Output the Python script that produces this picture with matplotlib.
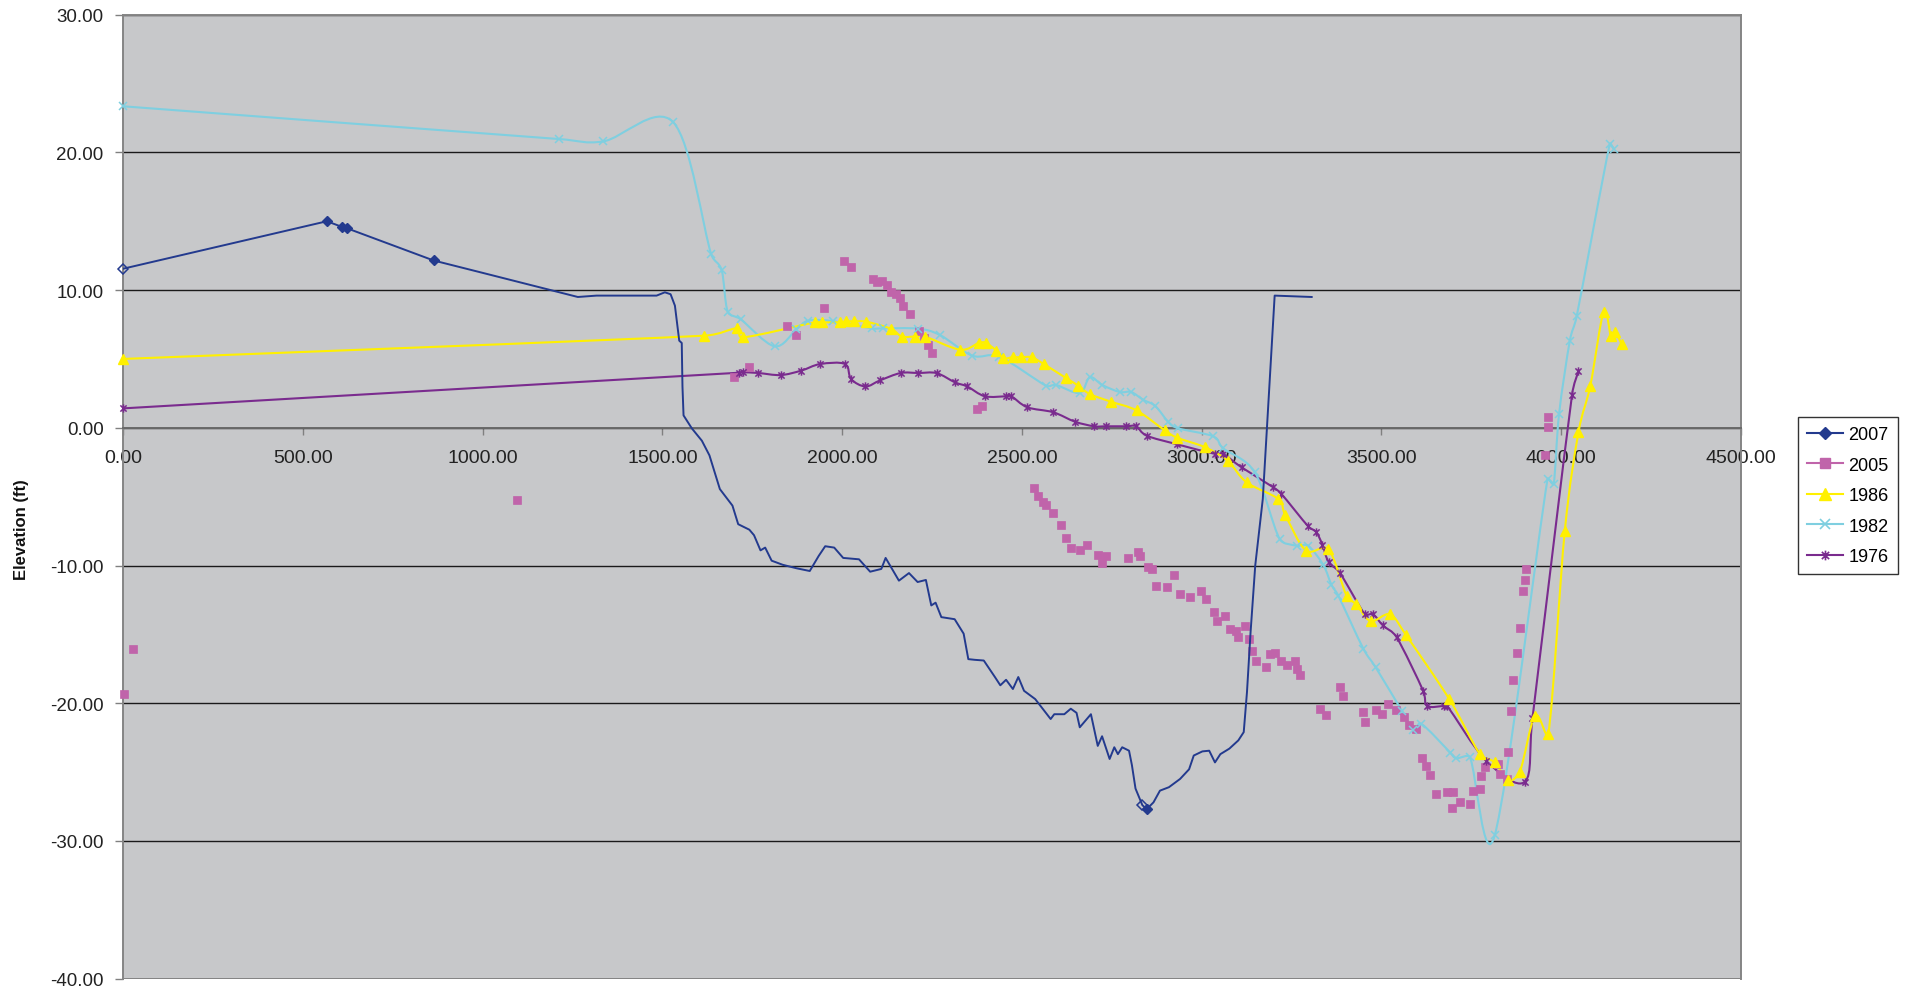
import numpy as np
import matplotlib
matplotlib.use('Agg')
import matplotlib.pyplot as plt
from matplotlib.path import Path
from matplotlib.patches import PathPatch
from matplotlib.lines import Line2D
from matplotlib.ticker import FormatStrFormatter

plt.rcParams['font.family'] = ['Liberation Sans', 'DejaVu Sans']

# ---- survey data (station ft, elevation ft) ----
x_2007 = [0, 567, 608, 622, 864, 993, 1265, 1317, 1484, 1507, 1523, 1535, 1547, 1554,
          1556, 1559, 1582, 1610, 1631, 1660, 1695, 1711, 1742, 1755, 1773, 1786, 1804,
          1835, 1873, 1910, 1935, 1953, 1978, 2003, 2047, 2078, 2109, 2121, 2158, 2186,
          2210, 2233, 2248, 2260, 2276, 2313, 2338, 2351, 2369, 2394, 2425, 2440, 2456,
          2475, 2490, 2506, 2537, 2580, 2590, 2618, 2636, 2652, 2661, 2692, 2711, 2723,
          2744, 2757, 2767, 2779, 2798, 2806, 2816, 2835, 2847, 2866, 2884, 2909, 2940,
          2965, 2978, 3002, 3021, 3037, 3052, 3077, 3102, 3117, 3126, 3136, 3149, 3170,
          3203, 3306]
y_2007 = [11.55, 15.0, 14.6, 14.5, 12.15, 11.3, 9.5, 9.6, 9.6, 9.84, 9.7, 8.87, 6.33, 6.16,
          3.0, 0.9, -0.04, -0.94, -2.0, -4.45, -5.65, -7.0, -7.4, -7.8, -8.9, -8.7, -9.65,
          -9.95, -10.2, -10.4, -9.3, -8.6, -8.7, -9.45, -9.55, -10.45, -10.25, -9.45, -11.1,
          -10.55, -11.2, -11.05, -12.9, -12.7, -13.75, -13.9, -14.95, -16.8, -16.85, -16.9,
          -18.1, -18.7, -18.3, -18.97, -18.1, -19.1, -19.7, -21.15, -20.8, -20.8, -20.4,
          -20.7, -21.75, -20.8, -23.1, -22.4, -24.05, -23.2, -23.7, -23.2, -23.45, -24.5,
          -26.2, -27.4, -27.7, -27.2, -26.35, -26.1, -25.5, -24.8, -23.8, -23.5, -23.45,
          -24.3, -23.7, -23.3, -22.7, -22.1, -19.2, -14.85, -10.0, -5.17, 9.6, 9.5]
marked_2007 = [1, 2, 3, 4, 74]   # filled diamonds
hollow_2007 = [0, 73]            # open diamonds

x_2005 = [2, 29, 1097, 1700, 1742, 1847, 1872, 1951, 2004, 2025, 2085, 2098, 2112, 2124,
          2136, 2149, 2160, 2170, 2189, 2215, 2228, 2238, 2250, 2374, 2388, 2533, 2544,
          2558, 2568, 2587, 2608, 2622, 2636, 2661, 2682, 2712, 2733, 2722, 2796, 2824,
          2828, 2851, 2861, 2874, 2904, 2923, 2939, 2967, 2997, 3012, 3034, 3043, 3065,
          3078, 3095, 3101, 3120, 3132, 3141, 3151, 3180, 3189, 3203, 3222, 3238, 3259,
          3264, 3273, 3329, 3347, 3384, 3394, 3449, 3454, 3485, 3502, 3518, 3540, 3562,
          3577, 3595, 3614, 3623, 3634, 3653, 3681, 3695, 3699, 3718, 3746, 3755, 3774,
          3778, 3787, 3824, 3829, 3848, 3852, 3859, 3866, 3876, 3885, 3894, 3899, 3903,
          3954, 3963, 3963]
y_2005 = [-19.3, -16.07, -5.24, 3.7, 4.39, 7.37, 6.72, 8.68, 12.14, 11.7, 10.8, 10.6, 10.65,
          10.4, 9.84, 9.7, 9.42, 8.87, 8.26, 7.0, 6.5, 6.0, 5.45, 1.37, 1.56, -4.4, -4.93,
          -5.41, -5.62, -6.16, -7.06, -8.02, -8.74, -8.85, -8.53, -9.24, -9.33, -9.82, -9.48,
          -9.0, -9.29, -10.13, -10.25, -11.51, -11.58, -10.69, -12.07, -12.31, -11.83,
          -12.43, -13.4, -14.0, -13.69, -14.61, -14.73, -15.21, -14.37, -15.34, -16.19,
          -16.91, -17.39, -16.43, -16.35, -16.91, -17.22, -16.91, -17.5, -17.95, -20.42,
          -20.85, -18.85, -19.46, -20.66, -21.39, -20.5, -20.79, -20.06, -20.5, -21.03,
          -21.6, -21.87, -24.0, -24.58, -25.21, -26.59, -26.47, -27.63, -26.47, -27.2,
          -27.32, -26.35, -26.23, -25.26, -24.65, -24.42, -25.14, -25.5, -23.52, -20.55,
          -18.29, -16.35, -14.55, -11.83, -11.03, -10.25, -1.95, 0.04, 0.76]

x_1986 = [0, 1616, 1707, 1725, 1924, 1943, 1994, 2012, 2033, 2066, 2135, 2166, 2202, 2230,
          2328, 2380, 2400, 2429, 2448, 2474, 2497, 2527, 2561, 2624, 2657, 2689, 2747,
          2819, 2897, 2932, 3010, 3072, 3125, 3213, 3232, 3290, 3352, 3403, 3430, 3470,
          3524, 3569, 3689, 3774, 3815, 3852, 3885, 3927, 3964, 4010, 4048, 4081, 4118,
          4138, 4150, 4168]
y_1986 = [5.0, 6.69, 7.22, 6.57, 7.66, 7.66, 7.66, 7.73, 7.73, 7.71, 7.2, 6.63, 6.63, 6.63,
          5.67, 6.16, 6.16, 5.6, 5.05, 5.12, 5.12, 5.12, 4.63, 3.59, 3.06, 2.45, 1.9, 1.26,
          -0.18, -0.72, -1.42, -2.39, -3.96, -5.17, -6.3, -8.92, -8.8, -12.19, -12.83,
          -14.04, -13.55, -15.08, -19.72, -23.7, -24.3, -25.6, -24.97, -20.9, -22.24,
          -7.47, -0.33, 3.06, 8.43, 6.69, 6.93, 6.09]

x_1982 = [0, 1213, 1336, 1530, 1636, 1665, 1682, 1718, 1812, 1873, 1906, 1974, 2082, 2114,
          2210, 2272, 2362, 2437, 2567, 2596, 2661, 2689, 2724, 2772, 2804, 2837, 2871,
          2907, 2935, 3032, 3060, 3148, 3217, 3264, 3296, 3338, 3361, 3380, 3450, 3484,
          3558, 3589, 3611, 3692, 3708, 3746, 3815, 3962, 3979, 3994, 4024, 4043, 4135, 4146]
y_1982 = [23.35, 20.97, 20.8, 22.2, 12.6, 11.45, 8.43, 7.88, 5.92, 7.15, 7.78, 7.75, 7.22,
          7.22, 7.2, 6.74, 5.24, 5.17, 3.06, 3.1, 2.53, 3.67, 3.1, 2.6, 2.6, 2.04, 1.58,
          0.44, -0.04, -0.62, -1.49, -3.23, -8.08, -8.56, -8.56, -9.95, -11.4, -12.19,
          -16.06, -17.4, -20.6, -21.95, -21.5, -23.6, -24.0, -23.93, -29.6, -3.72, -4.08,
          1.0, 6.33, 8.1, 20.6, 20.24]

x_1976 = [0, 1713, 1725, 1767, 1829, 1886, 1939, 2008, 2025, 2065, 2106, 2163, 2212, 2263,
          2314, 2348, 2397, 2457, 2471, 2515, 2587, 2648, 2701, 2735, 2789, 2818, 2847,
          2932, 3038, 3060, 3111, 3199, 3222, 3296, 3319, 3336, 3353, 3384, 3454, 3477,
          3504, 3542, 3616, 3627, 3673, 3683, 3792, 3899, 3920, 4030, 4048]
y_1976 = [1.41, 4.0, 4.03, 3.98, 3.83, 4.15, 4.63, 4.63, 3.54, 3.0, 3.45, 3.98, 3.98, 3.97,
          3.3, 3.0, 2.29, 2.29, 2.29, 1.49, 1.13, 0.44, 0.11, 0.11, 0.11, 0.11, -0.57,
          -1.2, -1.9, -1.9, -2.87, -4.32, -4.81, -7.15, -7.59, -8.51, -9.75, -10.52,
          -13.55, -13.55, -14.35, -15.2, -19.1, -20.2, -20.2, -20.2, -24.2, -25.7, -21.1,
          2.38, 4.12]

x_ticks = [0, 500, 1000, 1500, 2000, 2500, 3000, 3500, 4000, 4500]
y_ticks = [-40, -30, -20, -10, 0, 10, 20, 30]

c2007 = '#233a8e'
c2005 = '#c064aa'
c1986 = '#fff000'
c1982 = '#7fcfe0'
c1976 = '#7a2b8e'

XSPAN, YSPAN = 4500.0, 70.0


def smooth_path(xs, ys):
    # excel-like smoothed line: bezier segments through every point
    p = np.column_stack([np.asarray(xs, float) / XSPAN, np.asarray(ys, float) / YSPAN])
    n = len(p)
    verts = [p[0]]
    codes = [Path.MOVETO]
    for i in range(n - 1):
        a = p[i - 1] if i > 0 else p[i]
        b, c = p[i], p[i + 1]
        d = p[i + 2] if i + 2 < n else p[i + 1]
        seg = np.hypot(*(c - b))
        t1 = (c - a) / 6.0
        t2 = (d - b) / 6.0
        l1, l2 = np.hypot(*t1), np.hypot(*t2)
        if l1 > seg / 2:
            t1 = t1 * (seg / 2) / l1
        if l2 > seg / 2:
            t2 = t2 * (seg / 2) / l2
        verts += [b + t1, c - t2, c]
        codes += [Path.CURVE4] * 3
    verts = np.array(verts) * [XSPAN, YSPAN]
    return Path(verts, codes)


star = Path([(0, -1), (0, 1), (-0.75, -0.75), (0.75, 0.75), (-0.75, 0.75), (0.75, -0.75)],
            [Path.MOVETO, Path.LINETO] * 3)

fig = plt.figure(figsize=(19.21, 9.95), dpi=100)
ax = fig.add_axes([123 / 1921, 1 - 979.6 / 995, (1741 - 123) / 1921, (979.6 - 15.7) / 995])
ax.set_facecolor('#c7c8ca')

ax.set_xlim(0, 4500)
ax.set_ylim(-40, 30)
ax.set_xticks(x_ticks)
ax.set_yticks(y_ticks)
ax.xaxis.set_major_formatter(FormatStrFormatter('%.2f'))
ax.yaxis.set_major_formatter(FormatStrFormatter('%.2f'))
ax.set_axisbelow(True)
ax.yaxis.grid(True, color='#1a1a1a', lw=1.0)

for s in ['left', 'top', 'right']:
    ax.spines[s].set_color('#858585')
    ax.spines[s].set_linewidth(1.4)
ax.spines['bottom'].set_position(('data', 0))
ax.spines['bottom'].set_color('#6a6a6a')
ax.spines['bottom'].set_linewidth(1.4)
ax.axhline(-40, color='#858585', lw=1.4, zorder=2.5)

ax.tick_params(axis='x', direction='out', length=5, width=1, color='#808080',
               labelsize=14, pad=10, labelcolor='#222222')
ax.tick_params(axis='y', direction='out', length=6, width=1, color='#808080',
               labelsize=13.5, pad=8, labelcolor='#222222')

# smoothed survey lines
for xs, ys, col in [(x_1976, y_1976, c1976), (x_1982, y_1982, c1982), (x_1986, y_1986, c1986)]:
    ax.add_patch(PathPatch(smooth_path(xs, ys), fill=False, edgecolor=col, lw=1.5, zorder=3))

ax.plot(x_1976, y_1976, linestyle='none', marker=star, ms=6, mec=c1976, mew=1.1,
        zorder=4, clip_on=False)
ax.plot(x_1982, y_1982, linestyle='none', marker='x', ms=6, mec=c1982, mew=1.1,
        zorder=4, clip_on=False)
ax.plot(x_1986, y_1986, linestyle='none', marker='^', ms=7, color=c1986, mec=c1986,
        zorder=4, clip_on=False)

ax.plot(x_2005, y_2005, linestyle='none', marker='s', ms=6, color=c2005, mec=c2005,
        mew=0.5, zorder=3, clip_on=False)

ax.plot(x_2007, y_2007, color=c2007, lw=1.4, zorder=5)
ax.plot([x_2007[i] for i in marked_2007], [y_2007[i] for i in marked_2007],
        linestyle='none', marker='D', ms=5, color=c2007, zorder=6, clip_on=False)
ax.plot([x_2007[i] for i in hollow_2007], [y_2007[i] for i in hollow_2007],
        linestyle='none', marker='D', ms=5, mfc='none', mec=c2007, mew=1.1, zorder=6,
        clip_on=False)

fig.text(22 / 1921, 1 - 530 / 995, 'Elevation (ft)', rotation=90, ha='center',
         va='center', fontsize=12, fontweight='bold', color='#111111')

handles = [
    Line2D([], [], color=c2007, lw=1.5, marker='D', ms=6),
    Line2D([], [], color=c2005, lw=1.5, marker='s', ms=7),
    Line2D([], [], color=c1986, lw=1.5, marker='^', ms=8),
    Line2D([], [], color=c1982, lw=1.5, marker='x', ms=7, mew=1.2),
    Line2D([], [], color=c1976, lw=1.5, marker=star, ms=7, mew=1.2),
]
leg = fig.legend(handles, ['2007', '2005', '1986', '1982', '1976'],
                 loc='upper left', bbox_to_anchor=(1798 / 1921, 1 - 418 / 995),
                 fontsize=13, frameon=True, fancybox=False, edgecolor='#000000',
                 handlelength=2.0, handletextpad=0.3, labelspacing=0.75,
                 borderpad=0.5, borderaxespad=0)
leg.get_frame().set_linewidth(1.0)

fig.savefig('out.png', dpi=100, facecolor='white')
